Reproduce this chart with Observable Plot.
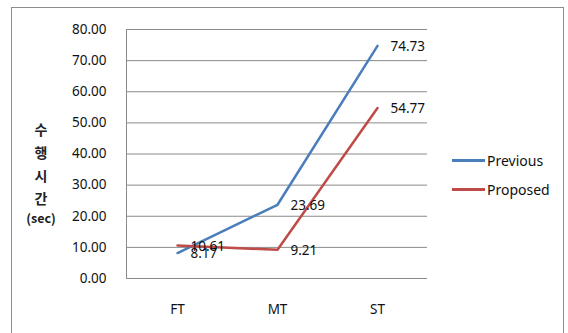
<!DOCTYPE html>
<html>
<head>
<meta charset="utf-8">
<script src="https://cdn.jsdelivr.net/npm/d3@7"></script>
<script src="https://cdn.jsdelivr.net/npm/@observablehq/plot@0.6"></script>
<style>
  html, body { margin: 0; padding: 0; background: #fff; }
  #wrap { position: relative; width: 568px; height: 333px; overflow: hidden; font-family: "Noto Sans", "Noto Sans CJK KR", sans-serif; }
  #border { position: absolute; left: 11px; top: 7px; width: 553px; height: 360px; border: 1.5px solid #8c8c8c; box-sizing: border-box; }
  #ytitle { position: absolute; left: 22px; top: 118px; width: 38px; text-align: center; font-weight: bold; font-size: 14px; line-height: 23px; color: #222; font-family: "Noto Sans CJK KR", sans-serif; }
  #ytitle .sec { font-size: 12.5px; line-height: 16px; }
  .leg { position: absolute; left: 452px; font-size: 14px; color: #111; display: flex; align-items: center; }
  .leg span.sw { display: inline-block; width: 33px; height: 2.5px; margin-right: 2px; }
  #chart { position: absolute; left: 0; top: 0; }
</style>
</head>
<body>
<div id="wrap">
  <div id="border"></div>
  <div id="chart"></div>
  <div id="ytitle"></div>
  <div id="legend"></div>
</div>
<script>
const categories = ["FT", "MT", "ST"];
const previous = [8.17, 23.69, 74.73];
const proposed = [10.61, 9.21, 54.77];
const seriesNames = ["Previous", "Proposed"];
const seriesColors = ["#4A7EBB", "#BE4B48"];
const yTicks = [0, 10, 20, 30, 40, 50, 60, 70, 80];
const yTitleChars = ["수", "행", "시", "간"];
const yTitleUnit = "(sec)";

const data = [];
categories.forEach((c, i) => {
  data.push({cat: c, value: previous[i], series: seriesNames[0]});
  data.push({cat: c, value: proposed[i], series: seriesNames[1]});
});

const fmt = d3.format(".2f");

const chart = Plot.plot({
  width: 568,
  height: 333,
  marginLeft: 126,
  marginRight: 141,
  marginTop: 29,
  marginBottom: 55,
  style: {fontFamily: "'Noto Sans', 'Noto Sans CJK KR', sans-serif", fontSize: "13.5px", color: "#111", background: "transparent"},
  x: {type: "point", domain: categories, padding: 0.5, label: null},
  y: {domain: [0, 80], label: null},
  color: {domain: seriesNames, range: seriesColors},
  marks: [
    Plot.ruleY(yTicks, {stroke: "#8a8a8a", strokeWidth: 1, strokeOpacity: 1}),
    Plot.frame({anchor: "left", stroke: "#8a8a8a", strokeOpacity: 1}),
    Plot.axisY({ticks: yTicks, tickFormat: fmt, tickSize: 0, tickPadding: 20, fontSize: 13.5}),
    Plot.axisX({tickSize: 0, tickPadding: 26, fontSize: 13.5}),
    Plot.line(data, {x: "cat", y: "value", z: "series", stroke: "series", strokeWidth: 2.5, curve: "linear"}),
    Plot.text(data, {x: "cat", y: "value", text: d => fmt(d.value), textAnchor: "start", dx: 13, dy: 1, fontSize: 13.5, fill: "#111"})
  ]
});
document.getElementById("chart").appendChild(chart);

const yt = document.getElementById("ytitle");
yt.innerHTML = yTitleChars.map(c => `<div>${c}</div>`).join("") + `<div class="sec">${yTitleUnit}</div>`;

const legendTops = [151, 180];
const lg = document.getElementById("legend");
seriesNames.forEach((name, i) => {
  const d = document.createElement("div");
  d.className = "leg";
  d.style.top = legendTops[i] + "px";
  d.innerHTML = `<span class="sw" style="background:${seriesColors[i]}"></span>${name}`;
  lg.appendChild(d);
});
</script>
</body>
</html>
